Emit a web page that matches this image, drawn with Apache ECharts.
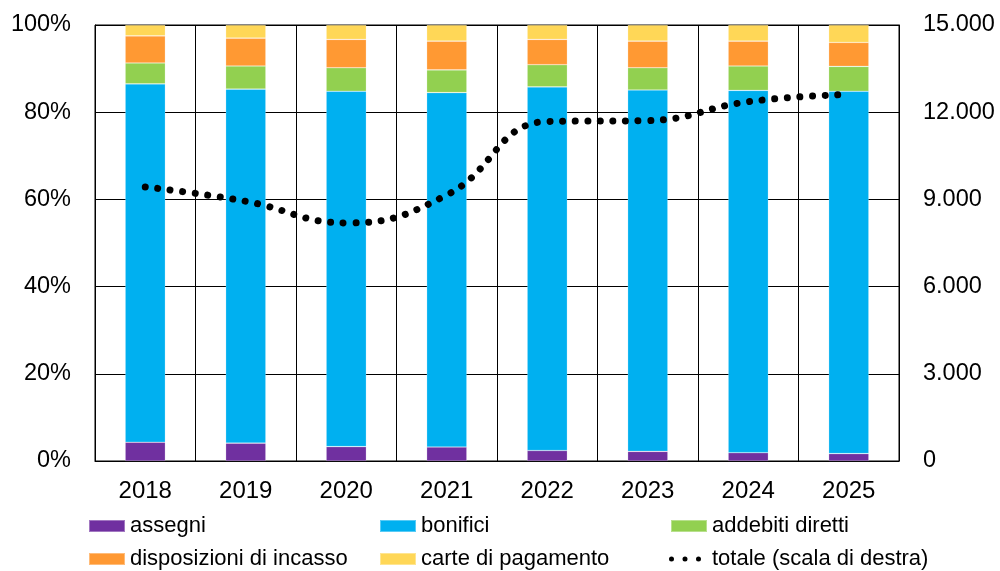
<!DOCTYPE html>
<html>
<head>
<meta charset="utf-8">
<script src="https://cdn.jsdelivr.net/npm/echarts@6/dist/echarts.min.js"></script>
<style>
html,body{margin:0;padding:0;background:#fff;}
#c{width:1000px;height:571px;}
</style>
</head>
<body>
<div id="c"></div>
<script>
const years = ['2018','2019','2020','2021','2022','2023','2024','2025'];
const assegni      = [4.3, 4.1, 3.3, 3.2, 2.4, 2.2, 1.9, 1.7];
const bonifici     = [82.2, 81.2, 81.5, 81.3, 83.4, 82.9, 83.1, 83.1];
const addebiti     = [4.8, 5.3, 5.4, 5.2, 5.1, 5.1, 5.6, 5.7];
const disposizioni = [6.2, 6.4, 6.5, 6.6, 5.8, 6.1, 5.7, 5.5];
const carte        = [2.5, 3.0, 3.3, 3.7, 3.3, 3.7, 3.7, 4.0];
const totale       = [9430, 8935, 8190, 9150, 11680, 11710, 12360, 12610];
const leftTicks = [0, 20, 40, 60, 80, 100];
const rightTicks = [0, 3000, 6000, 9000, 12000, 15000];

const FONT = 'Liberation Sans, Arial, sans-serif';
const chart = echarts.init(document.getElementById('c'), null, {renderer: 'canvas'});

function fmtIt(v) {
  return String(Math.round(v)).replace(/\B(?=(\d{3})+(?!\d))/g, '.');
}

function bar(name, data, color) {
  return {
    name: name, type: 'bar', stack: 'tot', data: data, barWidth: '40%',
    itemStyle: {color: color, borderColor: 'rgba(255,255,255,0.35)', borderWidth: 0.6},
    z: 3
  };
}

const dotsPath = 'path://M0,2.5A2.5,2.5 0 1 1 5,2.5A2.5,2.5 0 1 1 0,2.5Z' +
  'M13.5,2.5A2.5,2.5 0 1 1 18.5,2.5A2.5,2.5 0 1 1 13.5,2.5Z' +
  'M27,2.5A2.5,2.5 0 1 1 32,2.5A2.5,2.5 0 1 1 27,2.5Z';

function leg(name, left, top, extra) {
  return Object.assign({
    data: [{name: name, icon: 'rect'}],
    left: left, top: top, padding: 0,
    itemWidth: 36, itemHeight: 12,
    selectedMode: false,
    textStyle: {fontFamily: FONT, fontSize: 22, color: '#000', lineHeight: 24}
  }, extra || {});
}

const option = {
  animation: false,
  backgroundColor: '#fff',
  grid: {left: 95, right: 101, top: 25, bottom: 110, show: true, borderColor: '#000', borderWidth: 1, containLabel: false},
  legend: [
    leg('assegni', 88, 514),
    leg('bonifici', 379, 514),
    leg('addebiti diretti', 670, 514),
    leg('disposizioni di incasso', 88, 547),
    leg('carte di pagamento', 379, 547),
    {
      data: [{name: 'totale (scala di destra)', icon: dotsPath}],
      left: 669, top: 547, padding: 0,
      itemWidth: 32, itemHeight: 5,
      selectedMode: false,
      itemStyle: {color: '#000', borderWidth: 0},
      textStyle: {fontFamily: FONT, fontSize: 22, color: '#000', lineHeight: 24, padding: [0, 0, 0, 6]}
    }
  ],
  xAxis: {
    type: 'category', data: years, boundaryGap: true,
    axisLine: {show: true, lineStyle: {color: '#000', width: 1}},
    axisTick: {show: false},
    splitLine: {show: true, interval: 0, lineStyle: {color: '#000', width: 1}},
    axisLabel: {fontFamily: FONT, fontSize: 24, color: '#000', margin: 18, interval: 0}
  },
  yAxis: [
    {
      type: 'value', min: 0, max: 100, interval: 20, position: 'left',
      axisLine: {show: true, lineStyle: {color: '#000'}},
      axisTick: {show: false},
      splitLine: {show: true, lineStyle: {color: '#000', width: 1}},
      axisLabel: {fontFamily: FONT, fontSize: 23.5, color: '#000', margin: 24,
        formatter: function (v) { return leftTicks.indexOf(v) >= 0 ? v + '%' : ''; }}
    },
    {
      type: 'value', min: 0, max: 15000, interval: 3000, position: 'right',
      axisLine: {show: true, lineStyle: {color: '#000'}},
      axisTick: {show: false},
      splitLine: {show: false},
      axisLabel: {fontFamily: FONT, fontSize: 23.5, color: '#000', margin: 24, align: 'left',
        formatter: function (v) { return rightTicks.indexOf(v) >= 0 ? fmtIt(v) : ''; }}
    }
  ],
  series: [
    bar('assegni', assegni, '#7030A0'),
    bar('bonifici', bonifici, '#00B0F0'),
    bar('addebiti diretti', addebiti, '#92D050'),
    bar('disposizioni di incasso', disposizioni, '#FF9933'),
    bar('carte di pagamento', carte, '#FFD757'),
    {
      name: 'totale (scala di destra)', type: 'line', yAxisIndex: 1, data: totale,
      smooth: 0.45, showSymbol: false, symbol: 'none',
      itemStyle: {color: '#000'},
      lineStyle: {color: '#000', width: 7, type: [0.01, 12.6], cap: 'round'},
      z: 5
    }
  ]
};
chart.setOption(option);
</script>
</body>
</html>
